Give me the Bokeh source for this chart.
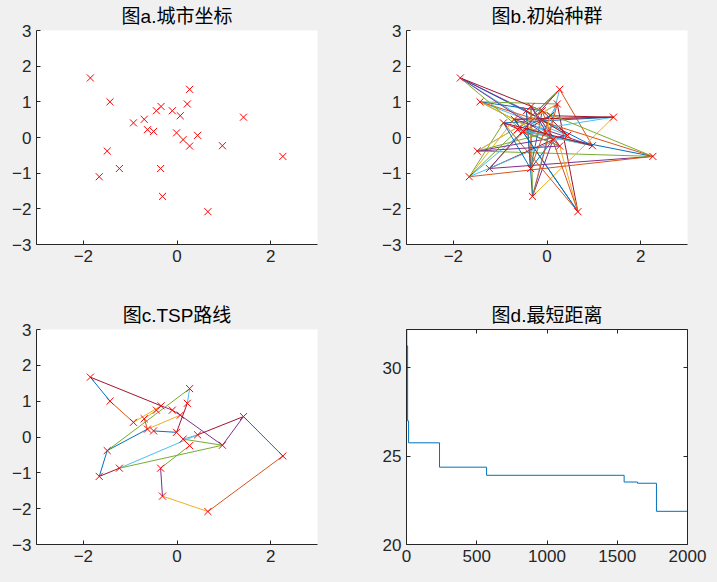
from bokeh.plotting import figure
from bokeh.layouts import gridplot
from bokeh.models import Range1d, LinearAxis, FixedTicker, CustomJSTickFormatter
from bokeh.embed import file_html
from bokeh.resources import INLINE

# ---- data -------------------------------------------------------------
city_x = [-1.85, 0.27, -1.43, 0.22, -0.34, -0.44, -0.10, 0.07, 1.42, -0.70,
          -0.93, -0.63, -0.50, -0.01, 0.44, 0.13, 0.27, 0.97, 2.26, -1.49,
          -1.23, -0.35, -1.66, -0.31, 0.66]
city_y = [1.67, 1.35, 1.00, 0.94, 0.87, 0.75, 0.75, 0.61, 0.57, 0.51,
          0.41, 0.22, 0.17, 0.13, 0.06, -0.06, -0.24, -0.23, -0.53, -0.38,
          -0.87, -0.87, -1.10, -1.65, -2.08]

# initial population routes (city numbers, 1-based)
route_b1 = [1, 18, 2, 21, 19, 20, 4, 25, 10, 9, 24, 16, 3, 15, 7, 22, 5, 17,
            11, 23, 13, 8, 12, 14, 6]
route_b2 = [3, 4, 8, 9, 11, 25, 17, 5, 24, 2, 12, 19, 23, 10, 18, 13, 21, 16,
            22, 6, 15, 20, 14, 1, 7]
route_b3 = [19, 3, 16, 1, 13, 9, 10, 25, 7, 21, 2, 23, 15, 6, 24, 4, 20, 17,
            12, 18, 11, 22, 8, 14, 5]

# TSP route segments (from city, to city, colour index)
seg_c_from = [1, 3, 11, 10, 1, 5, 7, 8, 18, 15, 9, 19, 25, 24, 22, 17, 16, 16,
              21, 21, 21, 23, 20, 20, 2, 4, 14, 12, 10]
seg_c_to = [3, 11, 5, 6, 5, 7, 8, 18, 9, 9, 19, 25, 24, 22, 17, 16, 15, 18,
            15, 18, 23, 20, 12, 2, 4, 14, 13, 8, 12]
seg_c_col = [0, 1, 2, 2, 6, 3, 3, 3, 3, 6, 0, 1, 2, 3, 4, 5, 5, 4,
             5, 4, 6, 0, 0, 4, 5, 6, 0, 2, 1]

# shortest distance per iteration (change points)
iter_d = [0, 2, 8, 15, 235, 570, 1549, 1644, 1779, 2000]
dist_d = [32.16, 31.25, 27.0, 25.76, 24.38, 23.92, 23.54, 23.47, 21.88, 21.88]

titles = ["图a.城市坐标", "图b.初始种群", "图c.TSP路线", "图d.最短距离"]
xy_ticks = [-2, 0, 2]
yy_ticks = [-3, -2, -1, 0, 1, 2, 3]
d_xticks = [0, 500, 1000, 1500, 2000]
d_yticks = [20, 25, 30]

colors = ["#0072BD", "#D95319", "#EDB120", "#7E2F8E", "#77AC30", "#4DBEEE", "#A2142F"]

# ---- styling helpers -------------------------------------------------
AX = "#262626"
FONT = "Liberation Sans, Arial, Noto Sans CJK SC"


def style_axis(ax, labels=True):
    ax.axis_line_color = AX
    ax.axis_line_width = 1
    ax.major_tick_line_color = AX
    ax.major_tick_in = 4
    ax.major_tick_out = 0
    ax.minor_tick_line_color = None
    ax.major_label_text_font = FONT
    ax.major_label_text_color = AX
    ax.major_label_text_font_size = "17px"
    if labels:
        ax.major_label_standoff = 5
    else:
        ax.formatter = CustomJSTickFormatter(code="return ''")
        ax.major_label_standoff = 0


def make_fig(title, w, h, bl, br, bt, bb, xr, yr):
    p = figure(width=w, height=h, output_backend="svg", toolbar_location=None,
               x_range=Range1d(*xr), y_range=Range1d(*yr),
               min_border_left=bl, min_border_right=br,
               min_border_top=bt, min_border_bottom=bb)
    p.border_fill_color = "#f0f0f0"
    p.background_fill_color = "white"
    p.outline_line_color = None
    p.grid.visible = False
    p.title.text = title
    p.title.align = "center"
    p.title.text_font = FONT
    p.title.text_font_size = "19px"
    p.title.text_font_style = "normal"
    p.title.text_color = "#000000"
    p.title.standoff = 7
    for ax in p.xaxis + p.yaxis:
        style_axis(ax)
    return p


def add_cities(p):
    for cx, cy in zip(city_x, city_y):
        p.scatter([cx], [cy], marker="x", size=10, line_color="#FF0000",
                  fill_color=None, line_width=1)


LW, RW = 362, 355
TH, BH = 290, 292

# ---- a: city coordinates ------------------------------------------------
pa = make_fig(titles[0], LW, TH, 36, 45, 30, 46, (-3, 3), (-3, 3))
pa.xaxis.ticker = FixedTicker(ticks=xy_ticks)
pa.yaxis.ticker = FixedTicker(ticks=yy_ticks)
add_cities(pa)

# ---- b: initial population ------------------------------------------------
pb = make_fig(titles[1], RW, TH, 44, 30, 30, 46, (-3, 3), (-3, 3))
pb.xaxis.ticker = FixedTicker(ticks=xy_ticks)
pb.yaxis.ticker = FixedTicker(ticks=yy_ticks)
k = 0
for route in (route_b1, route_b2, route_b3):
    n = len(route)
    for i in range(n):
        a_, b_ = route[i] - 1, route[(i + 1) % n] - 1
        pb.line([city_x[a_], city_x[b_]], [city_y[a_], city_y[b_]],
                line_color=colors[k % 7], line_width=1)
        k += 1
add_cities(pb)

# ---- c: TSP route ---------------------------------------------------------
pc = make_fig(titles[2], LW, BH, 36, 45, 39, 38, (-3, 3), (-3, 3))
pc.xaxis.ticker = FixedTicker(ticks=xy_ticks)
pc.yaxis.ticker = FixedTicker(ticks=yy_ticks)
for f_, t_, c_ in zip(seg_c_from, seg_c_to, seg_c_col):
    pc.line([city_x[f_ - 1], city_x[t_ - 1]], [city_y[f_ - 1], city_y[t_ - 1]],
            line_color=colors[c_], line_width=1)
add_cities(pc)

# ---- d: shortest distance ----------------------------------------------------
pd_ = make_fig(titles[3], RW, BH, 44, 30, 39, 38, (0, 2000), (20, 32.18))
pd_.xaxis.ticker = FixedTicker(ticks=d_xticks)
pd_.yaxis.ticker = FixedTicker(ticks=d_yticks)
top_ax = LinearAxis(ticker=FixedTicker(ticks=d_xticks))
right_ax = LinearAxis(ticker=FixedTicker(ticks=d_yticks))
style_axis(top_ax, labels=False)
style_axis(right_ax, labels=False)
pd_.add_layout(top_ax, "above")
pd_.add_layout(right_ax, "right")
pd_.step(iter_d, dist_d, mode="after", line_color=colors[0], line_width=1)

grid = gridplot([[pa, pb], [pc, pd_]], toolbar_location=None)

html = file_html(grid, INLINE)
html = html.replace("<head>", "<head><style>html,body{background:#f0f0f0;}</style>", 1)
open("out.html", "w").write(html)
